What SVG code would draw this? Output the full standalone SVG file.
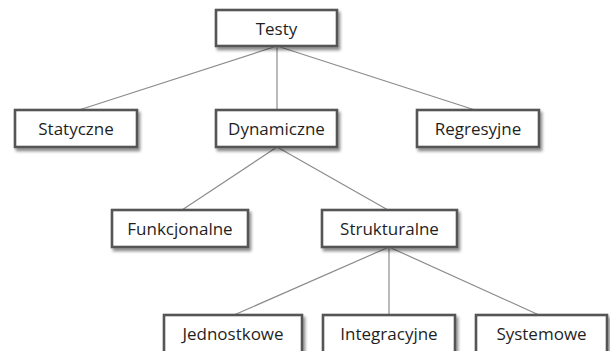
<svg xmlns="http://www.w3.org/2000/svg" width="610" height="351" viewBox="0 0 610 351">
<style>
.box{fill:#fff;stroke:#555;stroke-width:2.6;filter:url(#sh)}
.lbl{font-family:"Open Sans","Noto Sans",sans-serif;font-size:17px;fill:#1f1f1f;text-anchor:middle}
.con line{stroke:#8c8c8c;stroke-width:1.2}
</style>
<defs>
<filter id="sh" x="-20%" y="-30%" width="140%" height="170%">
<feDropShadow dx="2" dy="3" stdDeviation="1.8" flood-color="#000" flood-opacity="0.45"/>
</filter>
</defs>
<rect width="610" height="351" fill="#fff"/>
<g id="connectors" class="con">
<line x1="277" y1="46" x2="79" y2="110"/>
<line x1="277" y1="46" x2="277" y2="110"/>
<line x1="277" y1="46" x2="475" y2="110"/>
<line x1="277" y1="147" x2="182" y2="210"/>
<line x1="277" y1="147" x2="388" y2="210"/>
<line x1="389" y1="247" x2="234" y2="315"/>
<line x1="389" y1="247" x2="389" y2="315"/>
<line x1="389" y1="247" x2="539" y2="315"/>
</g>
<g id="testy"><rect class="box" x="216" y="10" width="121" height="36"/><text class="lbl" x="276.5" y="35">Testy</text></g>
<g id="statyczne"><rect class="box" x="15" y="110" width="122" height="37"/><text class="lbl" x="76" y="135">Statyczne</text></g>
<g id="dynamiczne"><rect class="box" x="216" y="110" width="121" height="37"/><text class="lbl" x="276.5" y="135">Dynamiczne</text></g>
<g id="regresyjne"><rect class="box" x="417" y="110" width="122" height="37"/><text class="lbl" x="478" y="135">Regresyjne</text></g>
<g id="funkcjonalne"><rect class="box" x="112" y="210" width="136" height="37"/><text class="lbl" x="180" y="235">Funkcjonalne</text></g>
<g id="strukturalne"><rect class="box" x="322" y="210" width="135" height="37"/><text class="lbl" x="389.5" y="235">Strukturalne</text></g>
<g id="jednostkowe"><rect class="box" x="164" y="315" width="138" height="44"/><text class="lbl" x="233" y="340">Jednostkowe</text></g>
<g id="integracyjne"><rect class="box" x="323" y="315" width="132" height="44"/><text class="lbl" x="389" y="340">Integracyjne</text></g>
<g id="systemowe"><rect class="box" x="476" y="315" width="131" height="44"/><text class="lbl" x="541.5" y="340">Systemowe</text></g>
</svg>
